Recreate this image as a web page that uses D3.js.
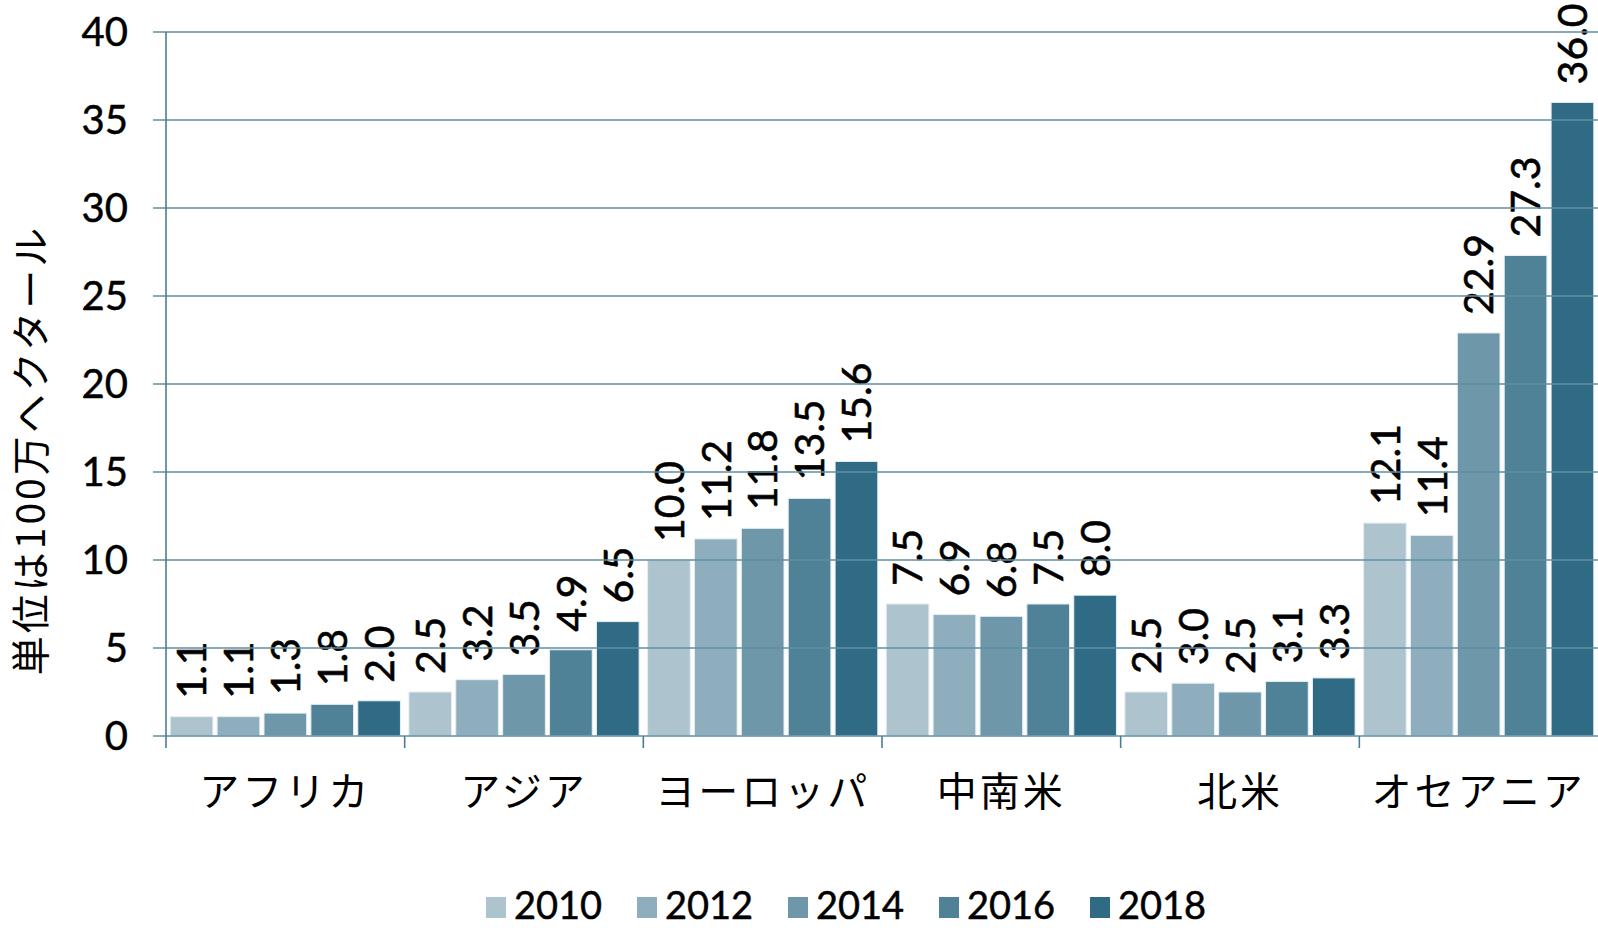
<!DOCTYPE html>
<html><head><meta charset="utf-8">
<script src="https://cdn.jsdelivr.net/npm/d3@7"></script>
<style>body{margin:0;background:#fff}svg{display:block}</style>
</head><body><svg id="c" width="1598" height="928"></svg>
<script>
const regions = ["アフリカ","アジア","ヨーロッパ","中南米","北米","オセアニア"];
const years = ["2010","2012","2014","2016","2018"];
const v2010 = [1.1, 2.5, 10.0, 7.5, 2.5, 12.1];
const v2012 = [1.1, 3.2, 11.2, 6.9, 3.0, 11.4];
const v2014 = [1.3, 3.5, 11.8, 6.8, 2.5, 22.9];
const v2016 = [1.8, 4.9, 13.5, 7.5, 3.1, 27.3];
const v2018 = [2.0, 6.5, 15.6, 8.0, 3.3, 36.0];
const yTicks = [0,5,10,15,20,25,30,35,40];
const colors = ["#adc4ce","#8eaebd","#6e97a9","#4f8197","#2f6b85"];
const yTitle = "単位は100万ヘクタール";

const series = [v2010, v2012, v2014, v2016, v2018];
const svg = d3.select("#c");
const L = 166, R = 1598, T = 32, B = 736;
const numFont = "Lato, 'DejaVu Sans', sans-serif";
const jpFont = "'Noto Sans CJK JP', sans-serif";

const x0 = d3.scaleBand().domain(regions).range([L, R]).padding(0);
const x1 = d3.scaleBand().domain(years).range([0, x0.bandwidth()]).paddingInner(0.09).paddingOuter(0.09);
const y = d3.scaleLinear().domain([0, 40]).range([B, T]);
const color = d3.scaleOrdinal().domain(years).range(colors);

// bars
const g = svg.append("g");
regions.forEach((r, ri) => {
  years.forEach((yr, yi) => {
    const v = series[yi][ri];
    g.append("rect")
      .attr("x", x0(r) + x1(yr))
      .attr("y", y(v))
      .attr("width", x1.bandwidth())
      .attr("height", y(0) - y(v))
      .attr("fill", color(yr))
      .attr("stroke", "#e6eef1").attr("stroke-width", 1);
    g.append("text")
      .attr("transform", `translate(${x0(r) + x1(yr) + x1.bandwidth()/2},${y(v) - 18}) rotate(-90)`)
      .attr("dy", "0.36em")
      .attr("text-anchor", "start")
      .attr("font-family", numFont)
      .attr("font-size", 41)
      .attr("fill", "#000")
      .attr("stroke", "#000").attr("stroke-width", 0.6)
      .text(v.toFixed(1));
  });
});

// gridlines (drawn above bars)
const ga = svg.append("g").attr("transform", `translate(${L - 13},0)`);
yTicks.forEach(t => {
  ga.append("line").attr("x1", 0).attr("x2", R - L + 13).attr("y1", y(t)).attr("y2", y(t))
    .attr("stroke", "#5f8fa4").attr("stroke-width", 1.6);
});
// y tick labels
svg.append("g").selectAll("text").data(yTicks).join("text")
  .attr("x", 128).attr("y", d => y(d)).attr("dy", "0.36em")
  .attr("text-anchor", "end")
  .attr("font-family", numFont).attr("font-size", 40).attr("fill", "#000")
  .attr("stroke", "#000").attr("stroke-width", 0.5)
  .text(d => d);

// y axis line
svg.append("line").attr("x1", L).attr("x2", L).attr("y1", T).attr("y2", B + 12)
  .attr("stroke", "#4a7d94").attr("stroke-width", 1.6);
// x axis ticks at category boundaries
const bounds = regions.map(r => x0(r)).concat([R]);
svg.append("g").selectAll("line").data(bounds.slice(1, -1)).join("line")
  .attr("x1", d => d).attr("x2", d => d).attr("y1", B).attr("y2", B + 12)
  .attr("stroke", "#4a7d94").attr("stroke-width", 1.6);

// category labels
svg.append("g").selectAll("text").data(regions).join("text")
  .attr("x", d => x0(d) + x0.bandwidth()/2).attr("y", 792).attr("dy", "0.36em")
  .attr("text-anchor", "middle")
  .attr("font-family", jpFont).attr("font-size", 40).attr("letter-spacing", 3).attr("fill", "#000")
  .text(d => d);

// y title
svg.append("text")
  .attr("transform", `translate(31,450) rotate(-90)`)
  .attr("dy", "0.36em").attr("text-anchor", "middle")
  .attr("font-family", jpFont).attr("font-size", 39).attr("letter-spacing", 3).attr("fill", "#000")
  .text(yTitle);

// legend
const lg = svg.append("g");
years.forEach((yr, i) => {
  const lx = 486 + i * 151;
  lg.append("rect").attr("x", lx).attr("y", 897).attr("width", 20).attr("height", 21).attr("fill", color(yr));
  lg.append("text").attr("x", lx + 28).attr("y", 919)
    .attr("font-family", numFont).attr("font-size", 38).attr("fill", "#000")
    .attr("stroke", "#000").attr("stroke-width", 0.5).text(yr);
});
</script></body></html>
